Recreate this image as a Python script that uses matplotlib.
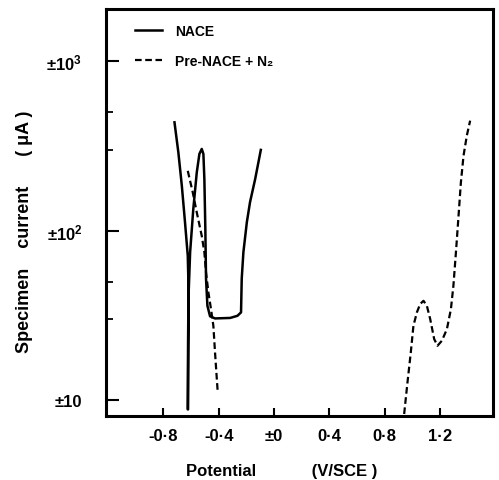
import matplotlib
matplotlib.use("Agg")
import matplotlib.pyplot as plt
from matplotlib.ticker import FixedLocator, NullFormatter

plt.rcParams['font.family'] = ['Liberation Sans', 'DejaVu Sans']
plt.rcParams['font.weight'] = 'bold'
plt.rcParams['mathtext.fontset'] = 'custom'
plt.rcParams['mathtext.rm'] = 'Liberation Sans:bold'
plt.rcParams['mathtext.bf'] = 'Liberation Sans:bold'
plt.rcParams['mathtext.it'] = 'Liberation Sans:bold'
plt.rcParams['mathtext.default'] = 'rm'

# NACE (solid) - cathodic branch then anodic branch
nace_E = [-0.720, -0.692, -0.667, -0.644, -0.624, -0.620, -0.620, -0.622, -0.624,
          -0.622, -0.619, -0.607, -0.584, -0.559, -0.540, -0.523, -0.511, -0.504,
          -0.497, -0.492, -0.482, -0.463, -0.427, -0.318, -0.265, -0.239, -0.234,
          -0.222, -0.197, -0.174, -0.137, -0.096]
nace_I = [435, 289, 184, 112, 71, 52, 33, 21, 8.8,
          8.8, 40, 74.4, 134, 220, 283, 303, 283, 201,
          102, 51.8, 36, 31.2, 30.3, 30.5, 31.4, 32.9, 52,
          74.4, 112, 147, 201, 299]

# Pre-NACE + N2 (dashed), cathodic-side segment
pre1_E = [-0.624, -0.588, -0.559, -0.523, -0.504, -0.492, -0.475, -0.456, -0.439,
          -0.427, -0.414, -0.407]
pre1_I = [225, 168, 128, 93.1, 74.4, 56.6, 43.2, 34.4, 27.4, 19.1, 13.3, 11.0]

# Pre-NACE + N2 (dashed), anodic segment
pre2_E = [0.940, 0.964, 0.988, 1.007, 1.032, 1.056, 1.080, 1.104, 1.128, 1.157,
          1.181, 1.213, 1.249, 1.278, 1.296, 1.316, 1.333, 1.350, 1.369, 1.393, 1.417]
pre2_I = [8.27, 12.7, 19.1, 27.4, 32.9, 36.9, 38.5, 36.0, 30.1, 22.9,
          20.9, 22.4, 26.2, 34.4, 47.3, 77.8, 122, 192, 276, 363, 445]

xtick_vals = [-0.8, -0.4, 0.0, 0.4, 0.8, 1.2]
xtick_labels = ["-0·8", "-0·4", "±0", "0·4", "0·8", "1·2"]
ytick_vals = [10, 100, 1000]
ytick_labels = ["±10", r"±10$^{2}$", r"±10$^{3}$"]
yminor_vals = [30, 50, 300, 500]

fig = plt.figure(figsize=(4.99, 4.81), dpi=100)
ax = fig.add_axes([106/499, 1 - 417/481, (492.7 - 106)/499, (417 - 10)/481])

ax.plot(nace_E, nace_I, color='black', lw=1.8, solid_joinstyle='round', label='NACE')
ax.plot(pre1_E, pre1_I, color='black', lw=1.6, dashes=(3, 1.6), label='Pre-NACE + N₂')
ax.plot(pre2_E, pre2_I, color='black', lw=1.6, dashes=(3, 1.6))

ax.set_yscale('log')
ax.set_xlim(-1.215, 1.58)
ax.set_ylim(8.05, 2028)

ax.xaxis.set_major_locator(FixedLocator(xtick_vals))
ax.set_xticklabels(xtick_labels)
ax.xaxis.set_minor_locator(FixedLocator([]))
ax.yaxis.set_major_locator(FixedLocator(ytick_vals))
ax.set_yticklabels(ytick_labels)
ax.yaxis.set_minor_locator(FixedLocator(yminor_vals))
ax.yaxis.set_minor_formatter(NullFormatter())

ax.tick_params(axis='x', which='major', direction='in', length=6, width=1.5,
               pad=9, labelsize=12)
ax.tick_params(axis='y', which='major', direction='in', length=9.5, width=1.5,
               pad=17, labelsize=12)
ax.tick_params(axis='y', which='minor', direction='in', length=5, width=1.3)

for s in ax.spines.values():
    s.set_linewidth(2.2)

ax.set_xlabel("Potential            (V/SCE )", fontsize=12, fontweight='bold')
ax.set_ylabel("Specimen    current      ( μA )", fontsize=13, fontweight='bold')
ax.xaxis.set_label_coords(0.454, -0.115)
ax.yaxis.set_label_coords(-0.19, 0.455)

ax.legend(loc='upper left', bbox_to_anchor=(0.075, 0.963), frameon=False,
          borderpad=0, borderaxespad=0, handlelength=1.95, handletextpad=0.93,
          labelspacing=1.17, prop={'size': 10, 'weight': 'bold'})

fig.savefig('out.png', dpi=100)
